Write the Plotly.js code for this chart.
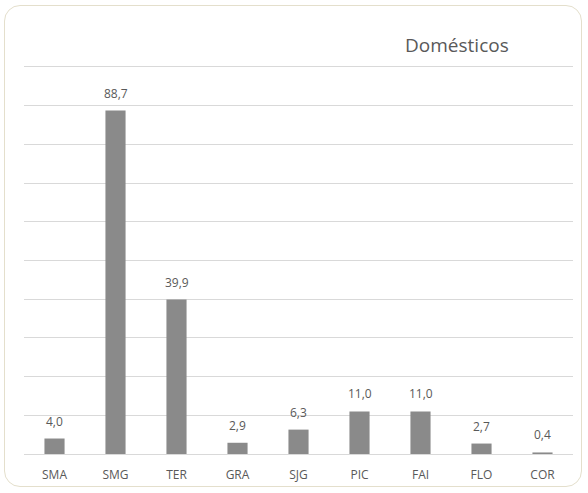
<!DOCTYPE html>
<html><head><meta charset="utf-8">
<script src="https://cdn.plot.ly/plotly-3.0.1.min.js"></script>
<style>
html,body{margin:0;padding:0;background:#fff;}
#frame{position:absolute;left:4px;top:5px;width:578px;height:482px;border:1px solid #e4dfcc;border-radius:16px;box-sizing:border-box;}
#chart{position:absolute;left:0;top:0;width:588px;height:493px;}
</style></head>
<body>
<div id="frame"></div>
<div id="chart"></div>
<script>
const categories = ["SMA","SMG","TER","GRA","SJG","PIC","FAI","FLO","COR"];
const values = [4.0, 88.7, 39.9, 2.9, 6.3, 11.0, 11.0, 2.7, 0.4];
const labels = values.map(v => v.toFixed(1).replace('.', ','));

const trace = {
  type: 'bar', x: categories, y: values,
  marker: {color: '#8a8a8a'},
  hoverinfo: 'none'
};
const annotations = categories.map((c, i) => ({
  x: c, y: values[i], xref: 'x', yref: 'y', text: labels[i], showarrow: false,
  yanchor: 'bottom', yshift: 7,
  font: {family: 'Open Sans, sans-serif', size: 12, color: '#595959'}
}));
const layout = {
  width: 588, height: 493,
  paper_bgcolor: 'rgba(0,0,0,0)', plot_bgcolor: 'rgba(0,0,0,0)',
  margin: {l: 24, r: 15, t: 63, b: 39},
  bargap: 0.67,
  showlegend: false,
  annotations: annotations,
  title: {text: 'Domésticos', x: 0.777, xanchor: 'center', y: 0.907, yanchor: 'middle',
          font: {family: 'Open Sans, sans-serif', size: 19, color: '#595959'}},
  xaxis: {showgrid: false, showline: true, linecolor: '#d9d9d9', linewidth: 1,
          ticks: 'outside', ticklen: 10, tickcolor: 'rgba(0,0,0,0)',
          tickfont: {family: 'Open Sans, sans-serif', size: 12, color: '#595959'}},
  yaxis: {range: [0, 101], tickvals: [10,20,30,40,50,60,70,80,90,100], showgrid: true, gridcolor: '#d9d9d9', gridwidth: 1,
          showticklabels: false, zeroline: false, ticks: ''},
  font: {family: 'Open Sans, sans-serif'}
};
Plotly.newPlot('chart', [trace], layout, {displayModeBar: false, staticPlot: true});
</script>
</body></html>
